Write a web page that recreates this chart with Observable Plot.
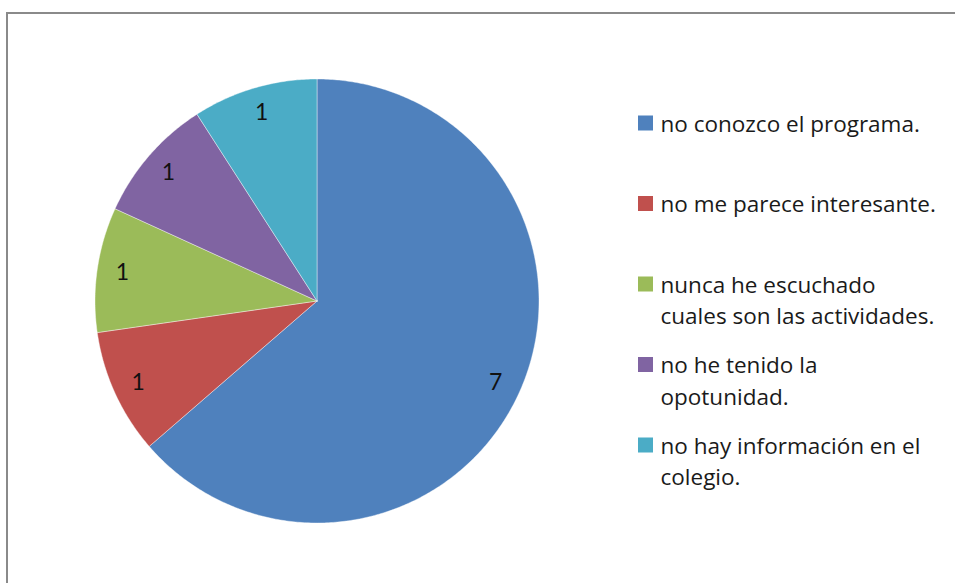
<!DOCTYPE html>
<html>
<head>
<meta charset="utf-8">
<script src="https://cdn.jsdelivr.net/npm/d3@7"></script>
<script src="https://cdn.jsdelivr.net/npm/@observablehq/plot@0.6"></script>
<style>
  html, body { margin: 0; padding: 0; background: #ffffff; }
  #wrap { position: relative; width: 955px; height: 583px; overflow: hidden; }
  #frame { position: absolute; left: 6px; top: 12px; right: -10px; bottom: -10px;
           border-top: 2px solid #8a8a8a; border-left: 2px solid #8a8a8a; pointer-events: none; }
  #chart svg { display: block; }
</style>
</head>
<body>
<div id="wrap"><div id="chart"></div><div id="frame"></div></div>
<script>
// ---- data ----
const categories = [
  "no conozco el programa.",
  "no me parece interesante.",
  "nunca he escuchado cuales son las actividades.",
  "no he tenido la opotunidad.",
  "no hay información en el colegio."
];
const legendLabels = [
  "no conozco el programa.",
  "no me parece interesante.",
  "nunca he escuchado\ncuales son las actividades.",
  "no he tenido la\nopotunidad.",
  "no hay información en el\ncolegio."
];
const values = [7, 1, 1, 1, 1];
const colors = ["#4F81BD", "#C0504D", "#9BBB59", "#8064A2", "#4BACC6"];

// ---- layout ----
const W = 955, H = 583;
const cx = 316.5, cy = 300.5, R = 222;     // pie centre and radius (px)
const labelR = 0.885;                       // label radius factor
const fsLabel = 23, fsLegend = 22.5;
const legendX = 638, legendSq = 15, legendTextX = 660;
const legendTop = 123, legendStep = 80.5, lineGap = 31.5;

const ux = px => (px - cx) / R;   // pixel -> data unit
const uy = py => (py - cy) / R;

const arcs = d3.pie().sort(null).value(d => d)(values);

const slicePts = [];
arcs.forEach((a, i) => {
  const n = Math.max(8, Math.ceil((a.endAngle - a.startAngle) / 0.01));
  slicePts.push({cat: categories[i], x: 0, y: 0});
  for (let k = 0; k <= n; k++) {
    const t = a.startAngle + (a.endAngle - a.startAngle) * k / n;
    slicePts.push({cat: categories[i], x: Math.sin(t), y: -Math.cos(t)});
  }
  slicePts.push({cat: categories[i], x: 0, y: 0});
});

const labels = arcs.map((a, i) => {
  const m = (a.startAngle + a.endAngle) / 2;
  return {text: String(values[i]), x: labelR * Math.sin(m), y: -labelR * Math.cos(m)};
});

const legend = categories.map((c, i) => {
  const yc = legendTop + i * legendStep;
  return {
    cat: c, label: legendLabels[i],
    x1: ux(legendX), x2: ux(legendX + legendSq),
    y1: uy(yc - legendSq / 2), y2: uy(yc + legendSq / 2),
    tx: ux(legendTextX), ty: uy(yc + 2 - 0.71 * fsLegend)
  };
});

const chart = Plot.plot({
  width: W, height: H,
  margin: 0,
  style: {background: "transparent", fontFamily: "'Open Sans', Lato, sans-serif"},
  x: {type: "linear", domain: [ux(0), ux(W)], range: [0, W], axis: null},
  y: {type: "linear", domain: [uy(0), uy(H)], range: [0, H], axis: null},
  color: {domain: categories, range: colors},
  marks: [
    Plot.line(slicePts, {x: "x", y: "y", z: "cat", fill: "cat", stroke: "#ffffff",
      strokeOpacity: 0.5, strokeWidth: 0.8, curve: "linear"}),
    Plot.text(labels, {x: "x", y: "y", text: "text", fontSize: fsLabel, fill: "#111",
      fontFamily: "Lato, sans-serif", textAnchor: "middle", lineAnchor: "middle"}),
    Plot.rect(legend, {x1: "x1", x2: "x2", y1: "y1", y2: "y2", fill: "cat", inset: 0}),
    Plot.text(legend, {x: "tx", y: "ty", text: "label", fontSize: fsLegend, fill: "#1a1a1a",
      textAnchor: "start", lineAnchor: "top", lineHeight: lineGap / fsLegend})
  ]
});
document.getElementById("chart").appendChild(chart);
</script>
</body>
</html>
